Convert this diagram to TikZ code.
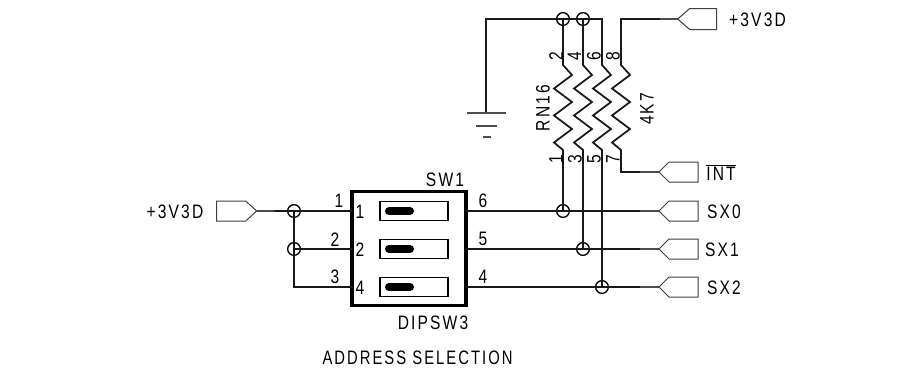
\documentclass[tikz,border=0pt]{standalone}
\usepackage{fontspec}
\setmainfont[LetterSpace=11,FakeStretch=0.8]{Liberation Sans}
\tikzset{
  wire/.style={line width=1.3pt,line cap=round,line join=miter,black!90},
  thinwire/.style={line width=0.8pt,black!70},
  conn/.style={line width=0.75pt,black!75,line join=miter},
  joint/.style={circle,draw,line width=1pt,minimum size=9.5pt,inner sep=0pt,fill=none},
  lab/.style={inner sep=0pt,font=\fontsize{14.6pt}{15pt}\selectfont},
  pinv/.style={lab,rotate=90},
  slot/.style={draw,line width=1pt,fill=white,outer sep=0pt},
  pill/.style={line width=6pt,line cap=round,black},
}
\newcommand{\rzig}[2]{% x centre line, name
  \coordinate (#2a) at (#1,65);
  \coordinate (#2b) at (#1,150);
  \draw[wire] (#2a) -- ++(9,10) -- ++(-18,13.5) -- ++(18,13.5) -- ++(-18,13.5) -- ++(18,13.5) -- ++(-18,13.5) -- (#2b);
}
\newcommand{\leftconn}[2]{% tip coordinate, name: body to the right
  \coordinate (#2) at #1;
  \draw[conn] (#2) -- ++(10,-10) -- ++(29,0) -- ++(0,20) -- ++(-29,0) -- cycle;
}
\begin{document}
\begin{tikzpicture}[x=0.75pt,y=-0.75pt]
\useasboundingbox (0,0) rectangle (904,371);
\fill[white] (0,0) rectangle (904,371);

% resistor network
\rzig{563}{ra}
\rzig{583}{rb}
\rzig{602}{rc}
\rzig{621}{rd}

% joints
\node[joint] (jt1) at (563,19) {};
\node[joint] (jt2) at (583,19) {};
\node[joint] (js0) at (563,211) {};
\node[joint] (js1) at (583,249) {};
\node[joint] (js2) at (602,287) {};
\node[joint] (jl1) at (294,211) {};
\node[joint] (jl2) at (294,249) {};

% ground
\coordinate (gnd) at (486,113);
\coordinate (railc) at (602,19);
\draw[wire] (gnd) -- (486,19) -- (railc) -- (rca);
\draw[wire] (jt1.center) -- (raa);
\draw[wire] (jt2.center) -- (rba);
\draw[thinwire] (467,113) -- (506,113);
\draw[thinwire] (476,126) -- (497,126);
\draw[thinwire] (483,137) -- (491,137);

% switch
\node[draw,line width=2.4pt,outer sep=0pt,minimum width=85.5pt,minimum height=85.5pt,inner sep=0pt,anchor=north west] (sw) at (352,191.5) {};
\foreach \yy/\nm in {211/a,249/b,287/c}{
  \node[slot,minimum width=51pt,minimum height=14.6pt,inner sep=0pt] (slot\nm) at (414,\yy) {};
  \draw[pill] (389,\yy) -- (410,\yy);
}

% right wires and connectors
\leftconn{(659,172)}{cint}
\leftconn{(659,211)}{csx0}
\leftconn{(659,249)}{csx1}
\leftconn{(659,287)}{csx2}
\coordinate (c3v) at (677.7,19);
\draw[conn] (c3v) -- ++(12,-10.5) -- ++(27,0) -- ++(0,21) -- ++(-27,0) -- cycle;

\draw[wire] (rda) -- (621,19) -- (660,19);
\draw[thinwire] (660,19) -- (c3v);
\draw[wire] (rdb) -- (621,172) -- (640,172);
\draw[thinwire] (640,172) -- (cint);
\draw[wire] (rab) -- (js0.center);
\draw[wire] (rbb) -- (js1.center);
\draw[wire] (rcb) -- (js2.center);
\draw[wire] (sw.east |- csx0) -- (640,211);
\draw[wire] (sw.east |- csx1) -- (640,249);
\draw[wire] (sw.east |- csx2) -- (640,287);
\draw[thinwire] (640,211) -- (csx0);
\draw[thinwire] (640,249) -- (csx1);
\draw[thinwire] (640,287) -- (csx2);

% left connector and wires
\coordinate (cl) at (256.7,211);
\draw[conn] (cl) -- ++(-11,-10) -- ++(-29,0) -- ++(0,20) -- ++(29,0) -- cycle;
\draw[thinwire] (cl) -- (275,211);
\draw[wire] (275,211) -- (sw.west |- cl);
\draw[wire] (jl2.center) -- (sw.west |- jl2);
\draw[wire] (jl1.center) -- (294,287) -- (sw.west |- csx2);

% labels
\node[lab] (t3vl) at (175,212) {+3V3D};
\node[lab] (t3vr) at (757.5,20) {+3V3D};
\node[lab] (tint) at (721,172) {$\overline{\hbox{INT}}$};
\node[lab] (tsx0) at (724,212) {SX0};
\node[lab] (tsx1) at (722,250) {SX1};
\node[lab] (tsx2) at (724,288) {SX2};
\node[lab] (tsw) at (445,180) {SW1};
\node[lab] (tdip) at (433,323) {DIPSW3};
\node[lab,xscale=0.95] (taddr) at (417.5,358) {ADDRESS SELECTION};
\node[lab] at (339,201) {1};
\node[lab] at (335,240) {2};
\node[lab] at (335,277) {3};
\node[lab] at (360,212) {1};
\node[lab] at (360,250) {2};
\node[lab] at (360,288) {4};
\node[lab] at (483,201) {6};
\node[lab] at (483,239) {5};
\node[lab] at (483,277) {4};
\node[pinv] at (556,56) {2};
\node[pinv] at (574.5,56) {4};
\node[pinv] at (594,56) {6};
\node[pinv] at (613,56) {8};
\node[pinv] at (556,159) {1};
\node[pinv] at (575,159) {3};
\node[pinv] at (594,159) {5};
\node[pinv] at (613,159) {7};
\node[pinv] (trn) at (543,108) {RN16};
\node[pinv] (t4k) at (647,109) {4K7};
\end{tikzpicture}
\end{document}
